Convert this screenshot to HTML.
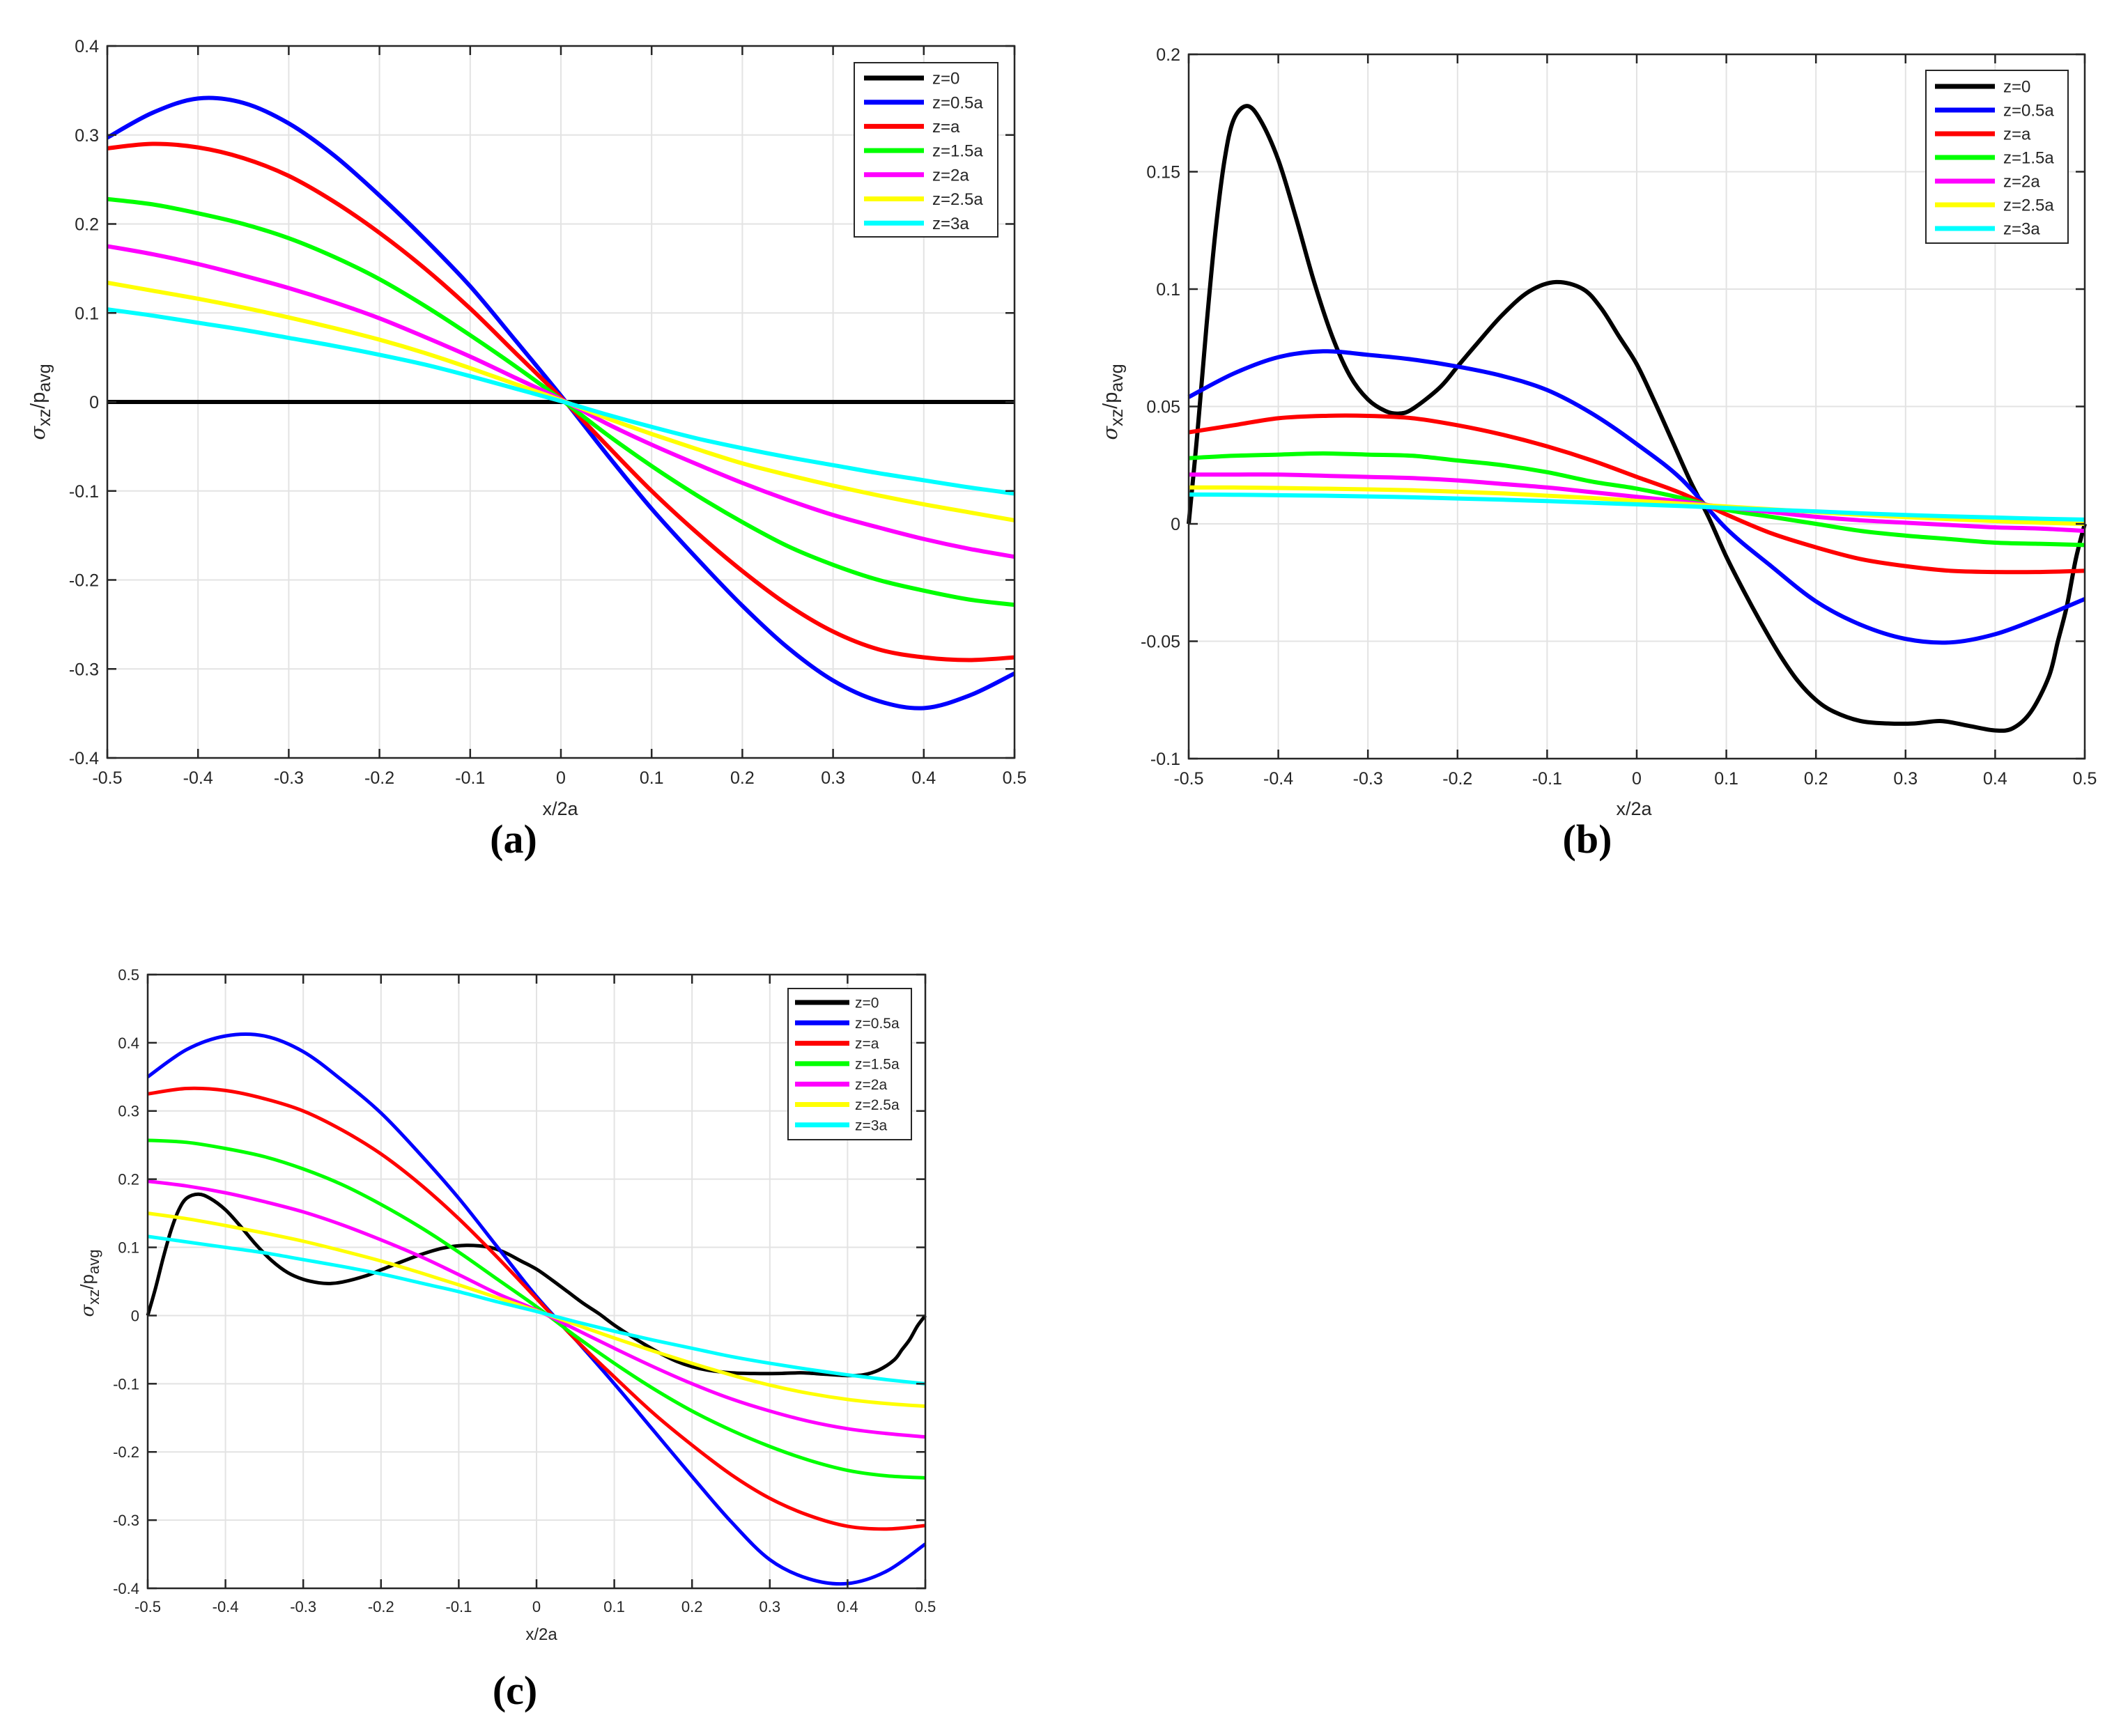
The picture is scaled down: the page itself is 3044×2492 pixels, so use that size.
<!DOCTYPE html>
<html><head><meta charset="utf-8"><style>
html,body{margin:0;padding:0;background:#fff;}
svg{display:block;}
text{font-family:"Liberation Sans",sans-serif;fill:#262626;}
.cap{font-family:"Liberation Serif",serif;font-weight:bold;fill:#000;}
</style></head><body>
<svg id="fig" width="3044" height="2492" viewBox="0 0 3044 2492" xmlns="http://www.w3.org/2000/svg"></svg>
<script>
// ---- shared data ----
const seriesNames = ["z=0","z=0.5a","z=a","z=1.5a","z=2a","z=2.5a","z=3a"];
const seriesColors = ["#000000","#0000ff","#ff0000","#00ff00","#ff00ff","#ffff00","#00ffff"];
const xTicks = [-0.5,-0.4,-0.3,-0.2,-0.1,0,0.1,0.2,0.3,0.4,0.5];
const xTickLabels = ["-0.5","-0.4","-0.3","-0.2","-0.1","0","0.1","0.2","0.3","0.4","0.5"];
const xs = [-0.5,-0.45,-0.4,-0.35,-0.3,-0.25,-0.2,-0.15,-0.1,-0.05,0,0.05,0.1,0.15,0.2,0.25,0.3,0.35,0.4,0.45,0.5];
const xsBlack = [-0.5,-0.49,-0.48,-0.47,-0.46,-0.45,-0.435,-0.42,-0.4,-0.38,-0.36,-0.34,-0.32,-0.3,-0.28,-0.265,-0.25,-0.22,-0.2,-0.18,-0.15,-0.12,-0.09,-0.06,-0.04,-0.02,0,0.02,0.04,0.06,0.08,0.1,0.12,0.14,0.16,0.18,0.2,0.22,0.25,0.28,0.31,0.34,0.37,0.4,0.42,0.44,0.46,0.47,0.48,0.49,0.5];

// ---- panel (a) ----
const yTicksA = [-0.4,-0.3,-0.2,-0.1,0,0.1,0.2,0.3,0.4];
const yTickLabelsA = ["-0.4","-0.3","-0.2","-0.1","0","0.1","0.2","0.3","0.4"];
const a_z0 = [0,0,0,0,0,0,0,0,0,0,0,0,0,0,0,0,0,0,0,0,0];
const a_z05 = [0.297,0.325,0.341,0.336,0.313,0.277,0.232,0.183,0.13,0.069,0.007,-0.058,-0.12,-0.176,-0.229,-0.276,-0.313,-0.336,-0.344,-0.33,-0.305];
const a_z1 = [0.285,0.29,0.286,0.274,0.254,0.225,0.19,0.15,0.105,0.055,0.005,-0.048,-0.1,-0.147,-0.19,-0.228,-0.258,-0.278,-0.287,-0.29,-0.287];
const a_z15 = [0.228,0.222,0.212,0.2,0.184,0.163,0.138,0.108,0.075,0.04,0.003,-0.036,-0.072,-0.105,-0.135,-0.162,-0.183,-0.2,-0.212,-0.222,-0.228];
const a_z2 = [0.175,0.166,0.155,0.142,0.128,0.112,0.094,0.073,0.051,0.027,0.003,-0.024,-0.048,-0.07,-0.091,-0.11,-0.127,-0.141,-0.154,-0.165,-0.174];
const a_z25 = [0.134,0.125,0.116,0.106,0.095,0.083,0.07,0.055,0.038,0.02,0.002,-0.018,-0.036,-0.053,-0.069,-0.082,-0.094,-0.105,-0.115,-0.124,-0.133];
const a_z3 = [0.104,0.097,0.089,0.081,0.072,0.063,0.053,0.042,0.029,0.015,0.001,-0.014,-0.028,-0.041,-0.052,-0.062,-0.071,-0.08,-0.088,-0.096,-0.103];

// ---- panel (b) ----
const yTicksB = [-0.1,-0.05,0,0.05,0.1,0.15,0.2];
const yTickLabelsB = ["-0.1","-0.05","0","0.05","0.1","0.15","0.2"];
const b_z0 = [0,0.04,0.085,0.125,0.155,0.172,0.178,0.172,0.155,0.13,0.103,0.08,0.063,0.053,0.048,0.047,0.049,0.058,0.067,0.076,0.089,0.099,0.103,0.1,0.092,0.08,0.068,0.052,0.035,0.018,0.003,-0.014,-0.029,-0.043,-0.056,-0.067,-0.075,-0.08,-0.084,-0.085,-0.085,-0.084,-0.086,-0.088,-0.087,-0.08,-0.065,-0.05,-0.035,-0.015,0];
const b_z05 = [0.054,0.064,0.071,0.0735,0.072,0.07,0.067,0.063,0.057,0.047,0.034,0.019,-0.002,-0.018,-0.033,-0.043,-0.049,-0.0505,-0.047,-0.04,-0.032];
const b_z1 = [0.039,0.042,0.045,0.046,0.046,0.045,0.042,0.038,0.033,0.027,0.02,0.013,0.004,-0.004,-0.01,-0.015,-0.018,-0.02,-0.0205,-0.0205,-0.02];
const b_z15 = [0.028,0.029,0.0295,0.03,0.0295,0.029,0.027,0.025,0.022,0.018,0.015,0.011,0.006,0.003,0,-0.003,-0.005,-0.0065,-0.008,-0.0085,-0.009];
const b_z2 = [0.021,0.021,0.021,0.0205,0.02,0.0195,0.0185,0.017,0.0155,0.0135,0.0115,0.0095,0.007,0.005,0.003,0.0015,0.0005,-0.0005,-0.0015,-0.002,-0.003];
const b_z25 = [0.0155,0.0155,0.0153,0.015,0.0147,0.0143,0.0137,0.013,0.012,0.011,0.0098,0.0086,0.0074,0.0062,0.005,0.0039,0.0029,0.002,0.0012,0.0005,0];
const b_z3 = [0.0125,0.0124,0.0122,0.012,0.0117,0.0113,0.0108,0.0103,0.0097,0.009,0.0083,0.0076,0.0068,0.006,0.0053,0.0045,0.0038,0.0032,0.0027,0.0022,0.0018];

// ---- panel (c) ----
const yTicksC = [-0.4,-0.3,-0.2,-0.1,0,0.1,0.2,0.3,0.4,0.5];
const yTickLabelsC = ["-0.4","-0.3","-0.2","-0.1","0","0.1","0.2","0.3","0.4","0.5"];
const c_z0 = [0,0.04,0.085,0.125,0.155,0.172,0.178,0.172,0.155,0.13,0.103,0.08,0.063,0.053,0.048,0.047,0.049,0.058,0.067,0.076,0.089,0.099,0.103,0.1,0.092,0.08,0.068,0.052,0.035,0.018,0.003,-0.014,-0.029,-0.043,-0.056,-0.067,-0.075,-0.08,-0.084,-0.085,-0.085,-0.084,-0.086,-0.088,-0.087,-0.08,-0.065,-0.05,-0.035,-0.015,0];
const c_z05 = [0.35,0.39,0.41,0.41,0.387,0.345,0.297,0.237,0.172,0.1,0.028,-0.035,-0.1,-0.168,-0.236,-0.302,-0.358,-0.386,-0.393,-0.375,-0.335];
const c_z1 = [0.325,0.333,0.33,0.318,0.3,0.272,0.237,0.193,0.142,0.085,0.025,-0.035,-0.09,-0.143,-0.19,-0.233,-0.268,-0.293,-0.309,-0.313,-0.308];
const c_z15 = [0.257,0.254,0.245,0.233,0.215,0.192,0.163,0.13,0.093,0.053,0.013,-0.03,-0.07,-0.107,-0.14,-0.168,-0.192,-0.212,-0.227,-0.235,-0.238];
const c_z2 = [0.197,0.19,0.18,0.167,0.152,0.133,0.111,0.087,0.06,0.032,0.008,-0.02,-0.048,-0.075,-0.1,-0.122,-0.14,-0.155,-0.166,-0.173,-0.178];
const c_z25 = [0.15,0.142,0.132,0.121,0.109,0.095,0.08,0.063,0.045,0.026,0.007,-0.013,-0.033,-0.052,-0.07,-0.087,-0.102,-0.114,-0.123,-0.129,-0.133];
const c_z3 = [0.116,0.108,0.1,0.092,0.082,0.072,0.061,0.048,0.035,0.02,0.006,-0.009,-0.023,-0.036,-0.048,-0.06,-0.07,-0.079,-0.087,-0.094,-0.1];

const NS = "http://www.w3.org/2000/svg";
const fig = document.getElementById('fig');
function mk(tag, parent){ const e = document.createElementNS(NS, tag); parent.appendChild(e); return e; }

function smoothPath(pts){
  let d = "M" + pts[0][0].toFixed(2) + "," + pts[0][1].toFixed(2);
  for (let i = 0; i < pts.length - 1; i++){
    const p0 = pts[Math.max(0,i-1)], p1 = pts[i], p2 = pts[i+1], p3 = pts[Math.min(pts.length-1,i+2)];
    const c1x = p1[0] + (p2[0]-p0[0])/6, c1y = p1[1] + (p2[1]-p0[1])/6;
    const c2x = p2[0] - (p3[0]-p1[0])/6, c2y = p2[1] - (p3[1]-p1[1])/6;
    d += " C" + c1x.toFixed(2)+","+c1y.toFixed(2)+" "+c2x.toFixed(2)+","+c2y.toFixed(2)+" "+p2[0].toFixed(2)+","+p2[1].toFixed(2);
  }
  return d;
}

function panel(cfg){
  const g = mk('g', fig);
  
  
  const L = cfg.box[0], T = cfg.box[1], R = cfg.box[2], B = cfg.box[3];
  const sx = v => L + (v - cfg.xmin) / (cfg.xmax - cfg.xmin) * (R - L);
  const sy = v => B - (v - cfg.ymin) / (cfg.ymax - cfg.ymin) * (B - T);
  const grid = mk('g', g);
  
  
  xTicks.forEach(v => { const l = mk('line', grid); l.setAttribute('x1', sx(v)); l.setAttribute('x2', sx(v)); l.setAttribute('y1', T); l.setAttribute('y2', B); l.setAttribute('stroke', '#e3e3e3'); l.setAttribute('stroke-width', 2); });
  cfg.yTicks.forEach(v => { const l = mk('line', grid); l.setAttribute('x1', L); l.setAttribute('x2', R); l.setAttribute('y1', sy(v)); l.setAttribute('y2', sy(v)); l.setAttribute('stroke', '#e3e3e3'); l.setAttribute('stroke-width', 2); });
  cfg.series.forEach((s, i) => {
    const p = mk('path', g);
    
    
    const px = s.x.map((xv, k) => [sx(xv), sy(s.y[k])]);
    p.setAttribute('d', smoothPath(px));
    p.setAttribute('fill', 'none');
    p.setAttribute('stroke', seriesColors[i]);
    p.setAttribute('stroke-width', cfg.lw);
    p.setAttribute('stroke-linejoin', 'round');
  });
  const ax = mk('rect', g);
  
  
  ax.setAttribute('x', L); ax.setAttribute('y', T); ax.setAttribute('width', R - L); ax.setAttribute('height', B - T);
  ax.setAttribute('fill', 'none'); ax.setAttribute('stroke', '#262626'); ax.setAttribute('stroke-width', 2.5);
  const tk = 13;
  xTicks.forEach((v, i) => {
    [[B, B - tk], [T, T + tk]].forEach(a => { const l = mk('line', g); l.setAttribute('x1', sx(v)); l.setAttribute('x2', sx(v)); l.setAttribute('y1', a[0]); l.setAttribute('y2', a[1]); l.setAttribute('stroke', '#262626'); l.setAttribute('stroke-width', 2.5); });
    const t = mk('text', g);
    
    
    t.setAttribute('x', sx(v)); t.setAttribute('y', B + cfg.fs + 12); t.setAttribute('text-anchor', 'middle'); t.setAttribute('font-size', cfg.fs);
    t.textContent = xTickLabels[i];
  });
  cfg.yTicks.forEach((v, i) => {
    [[L, L + tk], [R, R - tk]].forEach(a => { const l = mk('line', g); l.setAttribute('y1', sy(v)); l.setAttribute('y2', sy(v)); l.setAttribute('x1', a[0]); l.setAttribute('x2', a[1]); l.setAttribute('stroke', '#262626'); l.setAttribute('stroke-width', 2.5); });
    const t = mk('text', g);
    
    
    t.setAttribute('x', L - 12); t.setAttribute('y', sy(v) + cfg.fs * 0.36); t.setAttribute('text-anchor', 'end'); t.setAttribute('font-size', cfg.fs);
    t.textContent = cfg.yTickLabels[i];
  });
  const xl = mk('text', g);
  
  
  xl.setAttribute('x', cfg.xlab[0]); xl.setAttribute('y', cfg.xlab[1]); xl.setAttribute('text-anchor', 'middle'); xl.setAttribute('font-size', cfg.fs + 2);
  xl.textContent = 'x/2a';
  const yl = mk('text', g);
  
  
  yl.setAttribute('transform', 'translate(' + cfg.ylab[0] + ',' + cfg.ylab[1] + ') rotate(-90)');
  yl.setAttribute('text-anchor', 'middle'); yl.setAttribute('font-size', cfg.fs + 4);
  yl.innerHTML = '<tspan font-family="DejaVu Serif, serif" font-style="italic">σ</tspan><tspan dy="8" font-size="' + (cfg.fs) + '">xz</tspan><tspan dy="-8">/p</tspan><tspan dy="8" font-size="' + (cfg.fs) + '">avg</tspan>';
  const cp = mk('text', g);
  
  
  cp.setAttribute('class', 'cap');
  cp.setAttribute('x', cfg.cap[0]); cp.setAttribute('y', cfg.cap[1]); cp.setAttribute('text-anchor', 'middle'); cp.setAttribute('font-size', 58);
  cp.textContent = '(' + cfg.id + ')';
  const lg = mk('g', g);
  
  
  const lb = mk('rect', lg);
  lb.setAttribute('x', cfg.leg.x); lb.setAttribute('y', cfg.leg.y); lb.setAttribute('width', cfg.leg.w); lb.setAttribute('height', cfg.leg.h);
  lb.setAttribute('fill', '#fff'); lb.setAttribute('stroke', '#262626'); lb.setAttribute('stroke-width', 2);
  seriesNames.forEach((n, i) => {
    const e = mk('g', lg);
    
    
    const yy = cfg.leg.y0 + i * cfg.leg.dy;
    const l = mk('line', e); l.setAttribute('x1', cfg.leg.l1); l.setAttribute('x2', cfg.leg.l2); l.setAttribute('y1', yy); l.setAttribute('y2', yy); l.setAttribute('stroke', seriesColors[i]); l.setAttribute('stroke-width', 7);
    const t = mk('text', e); t.setAttribute('x', cfg.leg.tx); t.setAttribute('y', yy + cfg.leg.fs * 0.36); t.setAttribute('font-size', cfg.leg.fs); t.setAttribute('fill', '#000');
    t.textContent = n;
  });
}

panel({id:'a', box:[154,66,1456,1088], xmin:-0.5, xmax:0.5, ymin:-0.4, ymax:0.4, yTicks:yTicksA, yTickLabels:yTickLabelsA, fs:25, lw:6,
  series:[{x:xs,y:a_z0},{x:xs,y:a_z05},{x:xs,y:a_z1},{x:xs,y:a_z15},{x:xs,y:a_z2},{x:xs,y:a_z25},{x:xs,y:a_z3}],
  xlab:[804,1170], ylab:[64,577], cap:[737,1224],
  leg:{x:1226,y:90,w:206,h:250,y0:112,dy:34.7,l1:1240,l2:1326,tx:1338,fs:24}});
panel({id:'b', box:[1706,78,2992,1089], xmin:-0.5, xmax:0.5, ymin:-0.1, ymax:0.2, yTicks:yTicksB, yTickLabels:yTickLabelsB, fs:25, lw:6,
  series:[{x:xsBlack,y:b_z0},{x:xs,y:b_z05},{x:xs,y:b_z1},{x:xs,y:b_z15},{x:xs,y:b_z2},{x:xs,y:b_z25},{x:xs,y:b_z3}],
  xlab:[2345,1170], ylab:[1603,577], cap:[2278,1224],
  leg:{x:2764,y:101,w:204,h:248,y0:124,dy:34,l1:2777,l2:2863,tx:2875,fs:24}});
panel({id:'c', box:[212,1399,1328,2280], xmin:-0.5, xmax:0.5, ymin:-0.4, ymax:0.5, yTicks:yTicksC, yTickLabels:yTickLabelsC, fs:22, lw:5,
  series:[{x:xsBlack,y:c_z0},{x:xs,y:c_z05},{x:xs,y:c_z1},{x:xs,y:c_z15},{x:xs,y:c_z2},{x:xs,y:c_z25},{x:xs,y:c_z3}],
  xlab:[777,2354], ylab:[134,1842], cap:[739,2446],
  leg:{x:1131,y:1419,w:177,h:217,y0:1439,dy:29.3,l1:1141,l2:1219,tx:1227,fs:21}});
</script>
</body></html>
